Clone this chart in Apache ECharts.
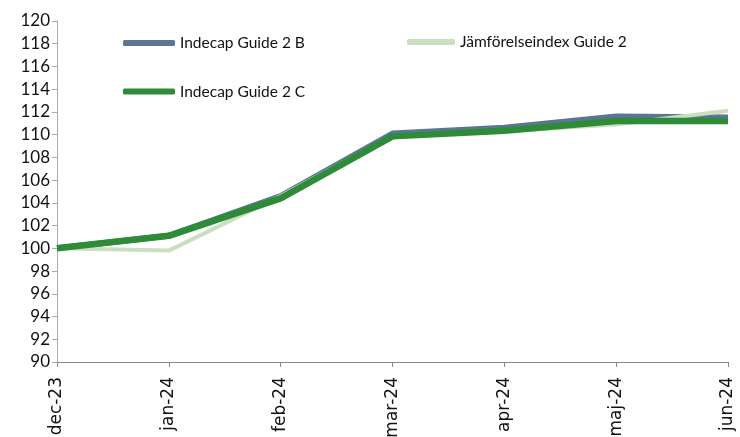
<!DOCTYPE html>
<html><head><meta charset="utf-8">
<script src="https://cdn.jsdelivr.net/npm/echarts@6/dist/echarts.min.js"></script>
<style>html,body{margin:0;padding:0;background:#fff}#c{width:740px;height:437px}</style>
</head><body><div id="c"></div>
<script>
const categories = ['dec-23','jan-24','feb-24','mar-24','apr-24','maj-24','jun-24'];
const guideB = [100, 101.1, 104.6, 110.1, 110.6, 111.6, 111.5];
const guideC = [100, 101.1, 104.4, 109.85, 110.35, 111.2, 111.2];
const jamfor = [100, 99.8, 104.6, 109.9, 110.3, 110.9, 112.1];
const yTicks = {min: 90, max: 120, step: 2};

const chart = echarts.init(document.getElementById('c'), null, {renderer:'canvas'});
const legendText = {fontFamily:'Lato', fontSize:15.5, color:'#111', lineHeight:18};
chart.setOption({
  animation:false,
  grid:{left:57, right:12, top:21, bottom:75, containLabel:false, outerBoundsMode:'none'},
  legend:[
    {left:123, top:34, padding:0, orient:'vertical', itemGap:30.5, itemWidth:52, itemHeight:6, icon:'roundRect',
     textStyle:legendText, data:['Indecap Guide 2 B','Indecap Guide 2 C']},
    {left:407, top:33, padding:0, itemWidth:48, itemHeight:6, icon:'roundRect',
     textStyle:legendText, data:['Jämförelseindex Guide 2']}
  ],
  xAxis:{type:'category', data:categories, boundaryGap:false,
    axisLine:{lineStyle:{color:'#888', width:1}},
    axisTick:{show:true, length:5, alignWithLabel:true, lineStyle:{color:'#888'}},
    axisLabel:{rotate:90, margin:15, fontFamily:'DejaVu Sans', fontSize:17, color:'#111', interval:0},
    splitLine:{show:false}},
  yAxis:{type:'value', min:yTicks.min, max:yTicks.max, interval:yTicks.step,
    axisLine:{show:true, lineStyle:{color:'#aaa', width:1}},
    axisTick:{show:true, inside:false, length:5, lineStyle:{color:'#aaa'}},
    axisLabel:{margin:7, fontFamily:'Lato', fontSize:17, color:'#111'},
    splitLine:{show:false}},
  series:[
    {name:'Indecap Guide 2 B', type:'line', data:guideB, symbol:'none', z:2,
     lineStyle:{color:'#5b7594', width:6}, itemStyle:{color:'#5b7594'}},
    {name:'Jämförelseindex Guide 2', type:'line', data:jamfor, symbol:'none', z:3,
     lineStyle:{color:'#c9dfc0', width:4}, itemStyle:{color:'#c9dfc0'}},
    {name:'Indecap Guide 2 C', type:'line', data:guideC, symbol:'none', z:4,
     lineStyle:{color:'#2e8b37', width:6.5}, itemStyle:{color:'#2e8b37'}}
  ]
});
</script></body></html>
